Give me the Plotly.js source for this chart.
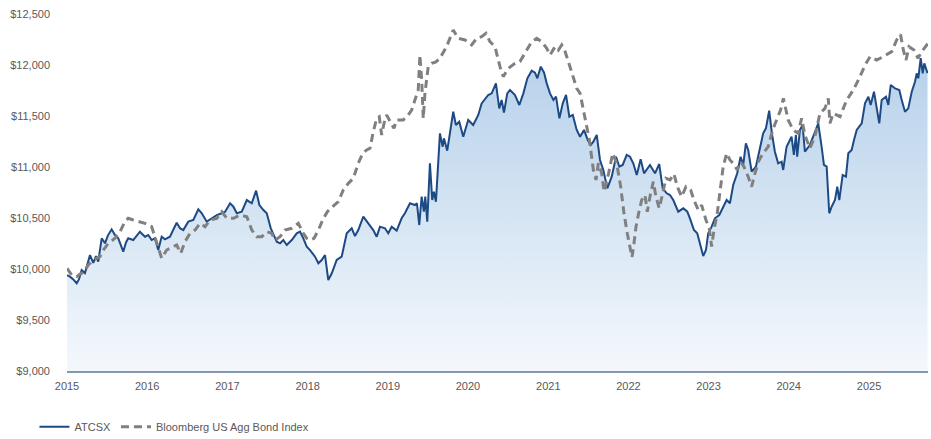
<!DOCTYPE html>
<html>
<head>
<meta charset="utf-8">
<script src="https://cdn.plot.ly/plotly-3.0.1.min.js"></script>
<style>
  html, body { margin: 0; padding: 0; background: #ffffff; }
  #chart { width: 931px; height: 439px; }
</style>
</head>
<body>
<div id="chart"></div>
<script>
// Dates as decimal years
const atcsxT = [2015.000,2015.037,2015.075,2015.121,2015.150,2015.183,2015.224,2015.262,2015.287,2015.328,2015.362,2015.390,2015.433,2015.474,2015.511,2015.557,2015.599,2015.640,2015.673,2015.702,2015.736,2015.764,2015.827,2015.873,2015.910,2015.973,
2016.014,2016.056,2016.097,2016.138,2016.181,2016.222,2016.284,2016.322,2016.368,2016.409,2016.450,2016.512,2016.575,2016.637,2016.680,2016.742,2016.804,2016.867,2016.929,2016.970,
2017.032,2017.074,2017.116,2017.178,2017.241,2017.303,2017.357,2017.398,2017.448,2017.490,2017.540,2017.572,2017.615,2017.656,2017.697,2017.739,2017.802,2017.864,2017.905,2017.946,2017.989,
2018.030,2018.092,2018.134,2018.176,2018.217,2018.258,2018.301,2018.363,2018.425,2018.488,2018.550,2018.591,2018.632,2018.695,2018.757,2018.819,2018.862,2018.903,2018.965,
2019.006,2019.049,2019.111,2019.173,2019.214,2019.277,2019.339,2019.364,2019.393,2019.423,2019.451,2019.468,2019.493,2019.526,2019.555,2019.576,2019.601,2019.651,2019.685,2019.701,2019.742,2019.817,2019.850,2019.892,2019.942,
2020.004,2020.066,2020.129,2020.171,2020.253,2020.296,2020.349,2020.390,2020.420,2020.449,2020.490,2020.524,2020.586,2020.640,2020.690,2020.740,2020.794,2020.835,2020.864,2020.907,2020.948,2020.981,
2021.022,2021.064,2021.097,2021.139,2021.181,2021.222,2021.263,2021.306,2021.355,2021.397,2021.446,2021.493,2021.530,2021.563,2021.605,2021.646,2021.687,2021.737,2021.792,2021.846,2021.887,2021.929,2021.979,
2022.020,2022.061,2022.104,2022.153,2022.195,2022.269,2022.332,2022.385,2022.428,2022.478,2022.519,2022.560,2022.622,2022.685,2022.735,2022.768,2022.818,2022.859,2022.893,2022.934,2022.968,2022.996,
2023.039,2023.080,2023.134,2023.183,2023.226,2023.267,2023.308,2023.358,2023.400,2023.433,2023.466,2023.495,2023.538,2023.591,2023.632,2023.682,2023.716,2023.757,2023.791,2023.828,2023.869,2023.912,2023.932,2023.974,
2024.036,2024.065,2024.090,2024.106,2024.140,2024.173,2024.202,2024.264,2024.305,2024.368,2024.410,2024.439,2024.473,2024.505,2024.535,2024.576,2024.605,2024.630,2024.672,2024.713,2024.742,2024.784,2024.813,2024.847,2024.909,2024.950,2024.992,
2025.021,2025.062,2025.096,2025.128,2025.158,2025.212,2025.241,2025.271,2025.324,2025.378,2025.408,2025.449,2025.490,2025.533,2025.574,2025.595,2025.615,2025.645,2025.670,2025.690,2025.730];

const atcsxValues = [9940,9925,9900,9860,9900,9990,9960,10080,10137,10059,10127,10072,10301,10252,10330,10389,10333,10301,10230,10170,10260,10301,10284,10330,10366,10317,
10333,10284,10301,10186,10317,10291,10317,10380,10454,10400,10382,10464,10480,10585,10546,10464,10497,10529,10546,10562,
10644,10611,10546,10562,10676,10644,10768,10627,10578,10546,10399,10350,10268,10252,10284,10235,10284,10350,10366,10301,10219,
10186,10121,10056,10088,10137,9892,9958,10088,10121,10350,10399,10323,10382,10513,10448,10382,10317,10415,10399,
10350,10415,10376,10497,10546,10644,10627,10644,10431,10709,10562,10709,10464,11036,10676,10758,10660,11330,11199,11281,11160,11542,11412,11444,11297,
11461,11412,11510,11624,11706,11722,11820,11575,11657,11533,11722,11755,11706,11608,11722,11870,11944,11925,11870,11984,11925,11820,
11722,11657,11690,11477,11624,11706,11493,11510,11363,11297,11363,11265,11216,11248,11314,11069,10970,10791,10905,11101,11003,11020,11118,
11101,11036,10922,11075,10938,11020,10938,11029,10791,10742,10725,10676,10562,10595,10562,10497,10382,10350,10252,10127,10186,10350,
10415,10497,10529,10611,10676,10644,10824,10938,11101,11020,11232,11167,10954,11003,11150,11330,11379,11552,11330,11150,11036,11052,10971,11199,
11297,11118,11314,11101,11363,11412,11150,11216,11297,11428,11199,11020,11003,10546,10611,10676,10807,10676,10922,10905,11134,11167,11265,11363,11428,11624,11689,
11608,11738,11559,11428,11657,11689,11608,11804,11771,11755,11657,11542,11575,11738,11836,11918,11870,12068,11918,12016,11920];

const bbgT = [2015.000,2015.059,2015.121,2015.162,2015.203,2015.266,2015.328,2015.411,2015.453,2015.515,2015.599,2015.661,2015.723,2015.764,2015.827,2015.910,2015.973,
2016.056,2016.097,2016.138,2016.181,2016.243,2016.305,2016.368,2016.418,2016.471,2016.534,2016.596,2016.658,2016.721,2016.783,2016.867,2016.929,2016.991,
2017.074,2017.157,2017.241,2017.303,2017.365,2017.428,2017.490,2017.552,2017.594,2017.656,2017.718,2017.802,2017.884,2017.946,2017.989,
2018.030,2018.080,2018.134,2018.188,2018.246,2018.313,2018.383,2018.445,2018.508,2018.570,2018.632,2018.687,2018.737,2018.778,2018.819,2018.862,2018.894,2018.924,2018.953,2018.986,
2019.028,2019.077,2019.111,2019.193,2019.256,2019.298,2019.339,2019.380,2019.401,2019.423,2019.443,2019.464,2019.505,2019.547,2019.601,2019.651,2019.734,2019.817,2019.879,2019.963,
2020.046,2020.109,2020.171,2020.225,2020.274,2020.337,2020.399,2020.440,2020.503,2020.586,2020.648,2020.732,2020.794,2020.857,2020.919,2020.981,
2021.022,2021.085,2021.126,2021.168,2021.210,2021.251,2021.293,2021.355,2021.397,2021.430,2021.471,2021.513,2021.563,2021.596,2021.625,2021.667,2021.696,2021.749,2021.804,2021.854,2021.904,2021.945,2021.986,
2022.029,2022.045,2022.070,2022.095,2022.136,2022.166,2022.207,2022.236,2022.269,2022.311,2022.344,2022.385,2022.428,2022.469,2022.519,2022.569,2022.610,2022.665,2022.718,2022.777,2022.818,2022.872,2022.914,2022.968,
2023.009,2023.039,2023.068,2023.109,2023.151,2023.183,2023.226,2023.267,2023.308,2023.358,2023.400,2023.442,2023.495,2023.538,2023.579,2023.632,2023.682,2023.745,2023.800,2023.850,2023.899,2023.934,2023.994,
2024.056,2024.119,2024.161,2024.202,2024.264,2024.327,2024.389,2024.452,2024.493,2024.514,2024.555,2024.639,2024.722,2024.805,2024.888,2024.950,
2025.013,2025.096,2025.179,2025.283,2025.345,2025.393,2025.428,2025.462,2025.499,2025.561,2025.611,2025.657,2025.720,2025.736];

const bbgValues = [10007,9941,9925,9950,9964,10039,10088,10121,10186,10252,10301,10366,10464,10497,10480,10464,10448,
10415,10317,10203,10105,10186,10213,10235,10154,10268,10350,10382,10448,10415,10480,10497,10562,10497,
10497,10529,10513,10382,10317,10317,10366,10350,10284,10317,10382,10399,10448,10350,10301,
10284,10301,10382,10480,10562,10611,10660,10775,10840,10889,11036,11134,11167,11183,11346,11477,11493,11314,11428,11510,
11444,11379,11461,11461,11510,11559,11657,11755,12098,11853,11477,11722,11984,12016,12030,12065,12180,12343,12261,12245,
12196,12261,12278,12310,12229,12180,11984,11886,11967,12016,12033,12147,12229,12261,12229,12164,
12098,12180,12147,12196,12131,12033,11918,11771,11722,11591,11395,11265,10971,10873,11036,10938,10758,10922,11134,11036,10807,10546,10350,
10154,10115,10252,10415,10578,10676,10725,10562,10709,10856,10709,10595,10742,10889,10873,10931,10807,10709,10807,10775,10676,10578,10627,10480,
10399,10219,10382,10546,10807,11003,11134,11069,11036,10971,11052,11003,10905,10807,10938,11069,11134,11199,11363,11461,11559,11673,11461,
11363,11330,11477,11314,11183,11300,11526,11575,11673,11428,11526,11493,11657,11755,11886,11999,
12082,12049,12082,12131,12245,12300,12147,12049,12180,12147,12065,12131,12196,12212];

const seriesNames = ["ATCSX", "Bloomberg US Agg Bond Index"];
const yTickVals = [9000, 9500, 10000, 10500, 11000, 11500, 12000, 12500];
const yTickText = ["$9,000", "$9,500", "$10,000", "$10,500", "$11,000", "$11,500", "$12,000", "$12,500"];
const xTickYears = [2015, 2016, 2017, 2018, 2019, 2020, 2021, 2022, 2023, 2024, 2025];
const xRangeYears = [2015.0, 2025.736];

function toDate(t) {
  const y = Math.floor(t);
  const a = Date.UTC(y, 0, 1), b = Date.UTC(y + 1, 0, 1);
  return new Date(a + (t - y) * (b - a)).toISOString().slice(0, 19).replace('T', ' ');
}

const font = "'Liberation Sans', Arial, Helvetica, sans-serif";
const atcsxDates = atcsxT.map(toDate);

const traces = [
  {
    // area under ATCSX (no legend entry)
    x: atcsxDates,
    y: atcsxValues,
    type: 'scatter',
    mode: 'none',
    fill: 'tozeroy',
    fillgradient: {
      type: 'vertical',
      start: 9000,
      stop: 12000,
      colorscale: [[0, '#f4f8fc'], [1, '#b8d2eb']]
    },
    showlegend: false,
    hoverinfo: 'skip'
  },
  {
    x: atcsxDates,
    y: atcsxValues,
    name: seriesNames[0],
    type: 'scatter',
    mode: 'lines',
    line: { color: '#1d4a84', width: 2 },
    hoverinfo: 'skip'
  },
  {
    x: bbgT.map(toDate),
    y: bbgValues,
    name: seriesNames[1],
    type: 'scatter',
    mode: 'lines',
    line: { color: '#808080', width: 3, dash: '8px,5px' },
    hoverinfo: 'skip'
  }
];

const layout = {
  width: 931,
  height: 439,
  margin: { l: 67, r: 3, t: 14, b: 68 },
  paper_bgcolor: '#ffffff',
  plot_bgcolor: '#ffffff',
  font: { family: font, size: 11, color: '#595959' },
  showlegend: true,
  legend: {
    orientation: 'h',
    xref: 'container',
    yref: 'container',
    x: 0.037,
    xanchor: 'left',
    y: 0.028,
    yanchor: 'middle',
    font: { family: font, size: 11, color: '#595959' },
    bgcolor: 'rgba(0,0,0,0)',
    itemwidth: 30,
    tracegroupgap: 0
  },
  xaxis: {
    type: 'date',
    range: xRangeYears.map(toDate),
    tickvals: xTickYears.map(toDate),
    ticktext: xTickYears.map(String),
    showgrid: false,
    zeroline: false,
    showline: true,
    linecolor: '#8496b2',
    linewidth: 2,
    ticks: '',
    ticklabelstandoff: 4,
    tickfont: { family: font, size: 11, color: '#595959' }
  },
  yaxis: {
    range: [9000, 12500],
    tickvals: yTickVals,
    ticktext: yTickText,
    showgrid: false,
    zeroline: false,
    showline: false,
    ticks: '',
    ticklabelstandoff: 16,
    tickfont: { family: font, size: 11, color: '#595959' }
  }
};

Plotly.newPlot('chart', traces, layout, { displayModeBar: false, staticPlot: true });
</script>
</body>
</html>
